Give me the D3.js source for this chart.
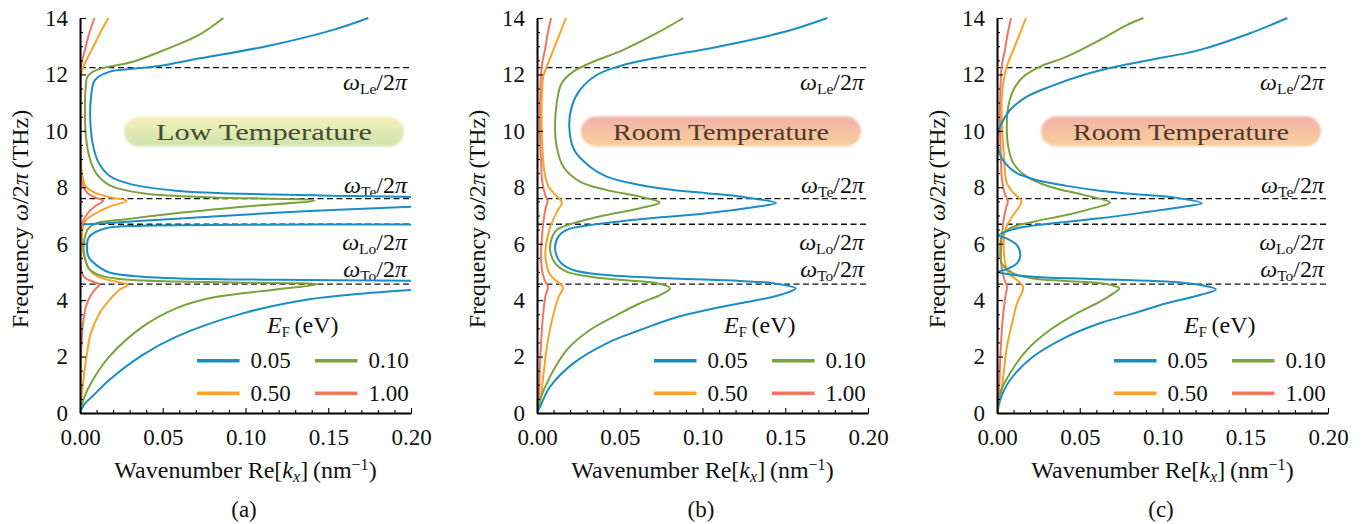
<!DOCTYPE html>
<html><head><meta charset="utf-8">
<script src="https://cdn.jsdelivr.net/npm/d3@7"></script>
<style>
body{margin:0;background:#fff;}
svg{display:block;}
</style></head><body>
<svg id="chart" width="1366" height="524"></svg>
<script>
// ---------- data: [Re(kx) in nm^-1, frequency in THz] ----------
const xTicks = [0, 0.05, 0.10, 0.15, 0.20];
const yTicks = [0, 2, 4, 6, 8, 10, 12, 14];
const efLabels = ["0.05", "0.10", "0.50", "1.00"];
const panelLetters = ["(a)", "(b)", "(c)"];
const panelBadges = ["Low Temperature", "Room Temperature", "Room Temperature"];
const omegaNames = ["Le", "Te", "Lo", "To"];
const omegaLevels = [12.24, 7.60, 6.69, 4.57];

// panel (a) – low temperature
const aBlueLow = [[0,0],[0.0025,0.3],[0.0077,0.6],[0.0177,1.17],[0.0379,2.06],[0.058,2.70],[0.0983,3.53],[0.1386,4.03],[0.17,4.23],[0.2,4.36]];
const aBlueMid = [[0.2,4.69],[0.12,4.72],[0.06,4.77],[0.038,4.83],[0.0177,4.98],[0.0097,5.25],[0.0055,5.5],[0.0042,5.8],[0.0056,6.25],[0.0157,6.55],[0.038,6.64],[0.1,6.67],[0.2,6.68]];
const aBlueDiag = [[0.002,6.69],[0.0077,6.70],[0.0177,6.73],[0.038,6.81],[0.078,6.96],[0.1386,7.16],[0.2,7.31]];
const aBlueHigh = [[0.2,7.66],[0.118,7.74],[0.058,7.88],[0.03,8.12],[0.018,8.4],[0.011,8.9],[0.0075,9.6],[0.0062,10.4],[0.0065,11.1],[0.009,11.8],[0.018,12.1],[0.032,12.2],[0.05,12.32],[0.0725,12.57],[0.1128,13.0],[0.153,13.58],[0.1742,14.0]];
const aGreen = [[0,0],[0.0027,0.58],[0.0077,1.17],[0.0177,2.0],[0.0379,3.06],[0.058,3.71],[0.0781,4.07],[0.1184,4.38],[0.1436,4.56],[0.098,4.62],[0.058,4.66],[0.03,4.72],[0.0137,4.85],[0.0056,5.1],[0.0034,5.4],[0.0022,5.8],[0.0026,6.13],[0.0046,6.5],[0.0097,6.72],[0.0278,6.87],[0.058,7.08],[0.0983,7.31],[0.1416,7.53],[0.078,7.65],[0.0379,7.79],[0.0177,8.08],[0.0097,8.5],[0.0056,9.09],[0.0036,9.8],[0.003,10.5],[0.0034,11.5],[0.0045,11.92],[0.010,12.16],[0.032,12.45],[0.052,12.89],[0.0725,13.42],[0.0866,14.0]];
const aOrange = [[0,0],[0.0008,0.5],[0.0016,0.93],[0.0036,1.88],[0.0066,2.83],[0.0117,3.53],[0.0177,4.0],[0.0238,4.36],[0.0288,4.54],[0.0218,4.66],[0.0137,4.77],[0.0077,4.95],[0.0046,5.19],[0.0032,5.42],[0.0015,5.9],[0.0012,6.3],[0.0018,6.6],[0.0036,6.84],[0.0097,7.08],[0.0177,7.31],[0.0282,7.52],[0.0177,7.65],[0.0097,7.79],[0.0036,8.02],[0.0012,8.5],[0.0005,9.5],[0.0004,11.0],[0.0008,12.0],[0.002,12.28],[0.0071,12.87],[0.0121,13.46],[0.0171,14.0]];
const aRed = [[0,0],[0.0003,1.0],[0.0006,1.88],[0.0016,3.06],[0.0036,3.77],[0.0066,4.18],[0.0097,4.42],[0.0117,4.54],[0.0077,4.66],[0.0036,4.77],[0.0012,4.95],[0.0004,5.3],[0.0003,6.0],[0.0006,6.5],[0.0016,6.77],[0.0046,7.08],[0.0087,7.31],[0.0139,7.52],[0.0087,7.65],[0.0046,7.79],[0.0016,8.08],[0.0004,8.6],[0.0002,10.0],[0.0003,11.5],[0.0006,12.28],[0.003,12.87],[0.0056,13.46],[0.0087,14.0]];

// panel (b) – room temperature
const bBlue = [[0,0],[0.0018,0.22],[0.0079,0.93],[0.0219,1.76],[0.0421,2.47],[0.0622,2.94],[0.0824,3.36],[0.1025,3.65],[0.1227,3.89],[0.1428,4.12],[0.1529,4.30],[0.1563,4.42],[0.1428,4.60],[0.1227,4.68],[0.0824,4.77],[0.0421,4.89],[0.0219,5.07],[0.0139,5.36],[0.0109,5.84],[0.0129,6.25],[0.0179,6.49],[0.032,6.66],[0.0622,6.87],[0.1025,7.08],[0.1328,7.31],[0.1444,7.44],[0.1227,7.67],[0.1025,7.79],[0.0824,7.90],[0.0622,8.08],[0.0421,8.38],[0.032,8.73],[0.0225,9.32],[0.0195,10.15],[0.021,10.86],[0.026,11.45],[0.0361,11.98],[0.0502,12.3],[0.075,12.62],[0.105,12.93],[0.133,13.27],[0.155,13.6],[0.1754,14.0]];
const bGreen = [[0,0],[0.0018,0.46],[0.0079,1.29],[0.0179,2.23],[0.032,2.94],[0.0482,3.47],[0.0622,3.89],[0.0743,4.18],[0.0804,4.42],[0.0723,4.60],[0.0522,4.71],[0.032,4.83],[0.0179,5.01],[0.0109,5.31],[0.0079,5.78],[0.0089,6.19],[0.0119,6.49],[0.0219,6.72],[0.0421,7.02],[0.0622,7.26],[0.0741,7.46],[0.0622,7.67],[0.0421,7.90],[0.026,8.20],[0.0159,8.73],[0.0119,9.44],[0.0109,10.15],[0.0119,10.98],[0.0149,11.69],[0.0219,12.10],[0.032,12.40],[0.0522,12.87],[0.0723,13.46],[0.0884,14.0]];
const bOrange = [[0,0],[0.002,0.46],[0.004,1.41],[0.006,2.35],[0.0091,3.30],[0.0131,4.12],[0.0158,4.45],[0.0121,4.66],[0.008,4.89],[0.006,5.19],[0.005,5.66],[0.006,6.13],[0.008,6.60],[0.0121,7.14],[0.015,7.47],[0.0111,7.73],[0.007,8.02],[0.0046,8.50],[0.0034,9.21],[0.0028,10.2],[0.0029,11.2],[0.0038,11.92],[0.0059,12.28],[0.0099,12.87],[0.0139,13.46],[0.0175,14.0]];
const bRed = [[0,0],[0.001,0.46],[0.002,2.0],[0.0034,3.30],[0.005,4.12],[0.0066,4.48],[0.0046,4.71],[0.003,5.07],[0.0024,5.66],[0.003,6.25],[0.004,6.84],[0.0054,7.31],[0.0064,7.49],[0.0046,7.79],[0.003,8.26],[0.0024,8.97],[0.0018,10.0],[0.002,11.3],[0.0028,12.28],[0.0048,12.87],[0.0065,13.46],[0.0085,14.0]];

// panel (c) – room temperature
const cBlue = [[0,0],[0.0018,0.46],[0.0079,1.17],[0.0219,2.0],[0.0421,2.70],[0.0622,3.18],[0.0824,3.53],[0.1025,3.89],[0.1227,4.18],[0.1323,4.38],[0.1227,4.54],[0.1025,4.66],[0.0622,4.74],[0.0219,4.83],[0.0059,4.93],[0.0006,5.0],[0.006,5.1],[0.012,5.3],[0.0141,5.6],[0.012,5.95],[0.006,6.18],[0.001,6.3],[0.009,6.5],[0.023,6.65],[0.0622,6.9],[0.0924,7.14],[0.1126,7.31],[0.1237,7.43],[0.1025,7.67],[0.0824,7.76],[0.0622,7.88],[0.0421,8.05],[0.025,8.24],[0.012,8.5],[0.005,8.85],[0.0015,9.2],[0.0003,9.6],[0.0004,9.9],[0.0018,10.15],[0.0079,10.74],[0.018,11.21],[0.032,11.57],[0.0522,11.98],[0.0723,12.28],[0.0924,12.51],[0.1227,12.87],[0.1529,13.46],[0.1754,14.0]];
const cGreen = [[0,0],[0.0018,0.70],[0.0079,1.41],[0.018,2.23],[0.032,2.94],[0.0482,3.53],[0.0622,3.95],[0.0703,4.24],[0.0739,4.42],[0.0663,4.57],[0.0421,4.68],[0.0219,4.77],[0.0099,4.95],[0.0028,5.31],[0.002,5.78],[0.0028,6.25],[0.0079,6.55],[0.0219,6.78],[0.0421,7.02],[0.0582,7.26],[0.0683,7.46],[0.0522,7.73],[0.032,8.02],[0.018,8.38],[0.0099,8.85],[0.0068,9.44],[0.0059,10.15],[0.0068,10.86],[0.0099,11.45],[0.0159,11.92],[0.026,12.28],[0.0421,12.63],[0.0622,13.22],[0.0784,13.75],[0.0884,14.0]];
const cOrange = [[0,0],[0.002,0.46],[0.004,1.41],[0.006,2.35],[0.0091,3.18],[0.0121,3.89],[0.0158,4.46],[0.0121,4.71],[0.0071,4.95],[0.005,5.31],[0.004,5.90],[0.005,6.49],[0.0091,6.96],[0.0147,7.49],[0.0101,7.79],[0.006,8.14],[0.0046,8.73],[0.0038,9.44],[0.0029,10.3],[0.003,11.3],[0.0059,12.28],[0.0099,12.87],[0.0139,13.46],[0.0175,14.0]];
const cRed = [[0,0],[0.001,0.46],[0.002,2.0],[0.0034,3.30],[0.005,4.12],[0.006,4.48],[0.0046,4.71],[0.003,5.07],[0.0024,5.66],[0.003,6.25],[0.004,6.84],[0.0056,7.31],[0.0066,7.49],[0.0046,7.79],[0.003,8.26],[0.0024,8.97],[0.0018,10.0],[0.002,11.3],[0.0028,12.28],[0.0048,12.87],[0.0065,13.46],[0.0085,14.0]];

// ---------- layout / style ----------
const colors = ["#1a8ec4", "#7aa23d", "#f9a22a", "#f4755f"];
const panelLefts = [80, 537, 997];
const plotW = 331, plotTop = 18, plotBottom = 413;
const FONT = '"Liberation Serif"';

const panels = [
  {series: [[aBlueLow, aBlueMid, aBlueDiag, aBlueHigh], [aGreen], [aOrange], [aRed]], badge: "low"},
  {series: [[bBlue], [bGreen], [bOrange], [bRed]], badge: "room"},
  {series: [[cBlue], [cGreen], [cOrange], [cRed]], badge: "room"}
];

const svg = d3.select("#chart");
const defs = svg.append("defs");
const gl = defs.append("linearGradient").attr("id", "gradLow").attr("x1", 0).attr("y1", 0).attr("x2", 0).attr("y2", 1);
gl.append("stop").attr("offset", "0%").attr("stop-color", "#f6f1bb");
gl.append("stop").attr("offset", "100%").attr("stop-color", "#cfe2ab");
const gr = defs.append("linearGradient").attr("id", "gradRoom").attr("x1", 0).attr("y1", 0).attr("x2", 0).attr("y2", 1);
gr.append("stop").attr("offset", "0%").attr("stop-color", "#f1b2a6");
gr.append("stop").attr("offset", "100%").attr("stop-color", "#f8cf9f");
defs.append("filter").attr("id", "soft").append("feGaussianBlur").attr("stdDeviation", 1.3);

function txt(sel) { return sel.style("font-family", FONT); }

panels.forEach((p, i) => {
  const L = panelLefts[i];
  const x = d3.scaleLinear().domain([0, 0.2]).range([L, L + plotW]);
  const y = d3.scaleLinear().domain([0, 14]).range([plotBottom, plotTop]);
  const g = svg.append("g");

  defs.append("clipPath").attr("id", "clip" + i).append("rect")
    .attr("x", L).attr("y", plotTop - 1).attr("width", plotW).attr("height", plotBottom - plotTop + 1);

  // badge
  const bx = L + 44, bw = 280;
  g.append("rect").attr("x", bx).attr("y", 116.5).attr("width", bw).attr("height", 30).attr("rx", 15)
    .attr("fill", p.badge === "low" ? "url(#gradLow)" : "url(#gradRoom)").attr("filter", "url(#soft)");
  txt(g.append("text")).attr("x", bx + bw / 2).attr("y", 139.5).attr("text-anchor", "middle")
    .attr("font-size", 24).attr("textLength", 216).attr("lengthAdjust", "spacingAndGlyphs")
    .attr("fill", p.badge === "low" ? "#434d33" : "#4f3828").text(panelBadges[i]);

  // dashed omega lines
  const labelDy = {Le: 22.5, Te: -6, Lo: 26, To: -7.5};
  omegaLevels.forEach((v, j) => {
    g.append("line").attr("x1", L).attr("x2", L + plotW).attr("y1", y(v)).attr("y2", y(v))
      .attr("stroke", "#111").attr("stroke-width", 1.3).attr("stroke-dasharray", "6,3.5");
    const t = txt(g.append("text")).attr("x", L + 327).attr("y", y(v) + labelDy[omegaNames[j]])
      .attr("text-anchor", "end").attr("font-size", 24).attr("fill", "#111");
    t.append("tspan").style("font-style", "italic").text("ω");
    t.append("tspan").attr("font-size", 15.5).attr("dy", 4).text(omegaNames[j]);
    t.append("tspan").attr("dy", -4).text("/2");
    t.append("tspan").style("font-style", "italic").text("π");
  });

  // curves
  const line = d3.line().x(d => x(d[0])).y(d => y(d[1])).curve(d3.curveCatmullRom.alpha(0.5));
  const cg = g.append("g").attr("clip-path", "url(#clip" + i + ")");
  [3, 2, 1, 0].forEach(s => {
    p.series[s].forEach(seg => {
      cg.append("path").attr("d", line(seg)).attr("fill", "none")
        .attr("stroke", colors[s]).attr("stroke-width", 2).attr("stroke-linejoin", "round");
    });
  });

  // axes
  const xMinor = d3.range(0, 0.2001, 0.01).filter(v => Math.abs(v * 20 - Math.round(v * 20)) > 1e-6);
  const yMinor = d3.range(0, 14.001, 0.5).filter(v => Math.abs(v - 2 * Math.round(v / 2)) > 1e-6);
  g.append("g").attr("transform", `translate(0,${plotBottom})`)
    .call(d3.axisBottom(x).tickValues(xTicks).tickFormat(d3.format(".2f")).tickSizeInner(-5).tickSizeOuter(0).tickPadding(16));
  g.append("g").attr("transform", `translate(0,${plotBottom})`)
    .call(d3.axisBottom(x).tickValues(xMinor).tickFormat("").tickSizeInner(-3).tickSizeOuter(0))
    .select(".domain").remove();
  g.append("g").attr("transform", `translate(${L},0)`)
    .call(d3.axisLeft(y).tickValues(yTicks).tickFormat(d3.format("d")).tickSizeInner(-6).tickSizeOuter(0).tickPadding(12));
  g.append("g").attr("transform", `translate(${L},0)`)
    .call(d3.axisLeft(y).tickValues(yMinor).tickFormat("").tickSizeInner(-3).tickSizeOuter(0))
    .select(".domain").remove();
  g.selectAll("g").attr("font-family", null);
  g.selectAll(".domain").attr("stroke", "#000").attr("stroke-width", 2);
  g.selectAll(".tick line").attr("stroke", "#000").attr("stroke-width", 1.1);
  txt(g.selectAll(".tick text")).attr("font-size", 23).attr("fill", "#111");

  // axis titles
  const xt = txt(g.append("text")).attr("x", L + plotW / 2).attr("y", 478).attr("text-anchor", "middle").attr("font-size", 24).attr("fill", "#111");
  xt.append("tspan").text("Wavenumber Re[");
  xt.append("tspan").style("font-style", "italic").text("k");
  xt.append("tspan").style("font-style", "italic").attr("font-size", 16).attr("dy", 4).text("x");
  xt.append("tspan").attr("dy", -4).text("]\u2009(nm");
  xt.append("tspan").attr("font-size", 16).attr("dy", -8).text("\u22121");
  xt.append("tspan").attr("dy", 8).text(")");

  const yt = txt(g.append("text")).attr("transform", `translate(${L - 52},219) rotate(-90)`)
    .attr("text-anchor", "middle").attr("font-size", 24).attr("fill", "#111");
  yt.append("tspan").text("Frequency ");
  yt.append("tspan").style("font-style", "italic").text("ω");
  yt.append("tspan").text("/2");
  yt.append("tspan").style("font-style", "italic").text("π");
  yt.append("tspan").text("\u2009(THz)");

  txt(g.append("text")).attr("x", L + 164).attr("y", 517).attr("text-anchor", "middle").attr("font-size", 23).attr("fill", "#111").text(panelLetters[i]);

  // legend
  const lt = txt(g.append("text")).attr("x", L + 187).attr("y", 333).attr("font-size", 24).attr("fill", "#111");
  lt.append("tspan").style("font-style", "italic").text("E");
  lt.append("tspan").attr("font-size", 14.5).attr("dy", 4).text("F");
  lt.append("tspan").attr("dy", -4).text("\u2009(eV)");
  efLabels.forEach((lab, s) => {
    const col = s % 2, row = Math.floor(s / 2);
    const lx = L + 117 + col * 118, ly = 360.7 + row * 32.6;
    g.append("line").attr("x1", lx).attr("x2", lx + 42.5).attr("y1", ly).attr("y2", ly)
      .attr("stroke", colors[s]).attr("stroke-width", 3.5);
    txt(g.append("text")).attr("x", lx + 53.5).attr("y", ly + 7.5).attr("font-size", 23).attr("fill", "#111").text(lab);
  });
});
</script></body></html>
